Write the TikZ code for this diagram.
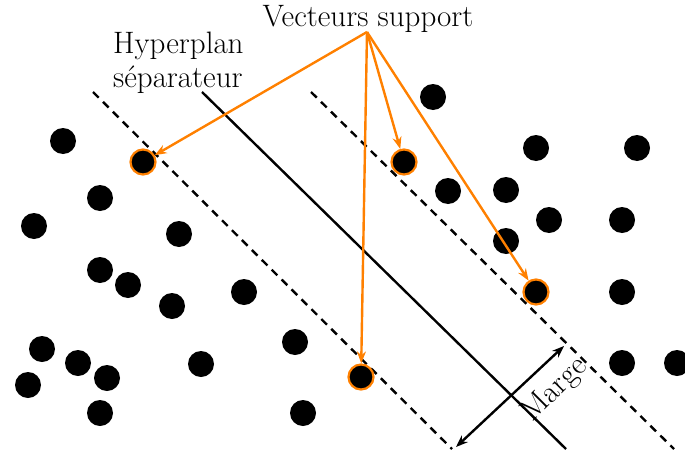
\documentclass[tikz,border=0pt]{standalone}
\usepackage{fontspec}
\setmainfont{Latin Modern Roman}
\usetikzlibrary{arrows.meta}
\definecolor{svmorange}{RGB}{255,128,0}
\begin{document}
\begin{tikzpicture}[x=1pt,y=-1pt,
  lbl/.style={font=\fontsize{31}{34}\selectfont, inner sep=0pt},
  pt/.style={circle, fill=black, minimum size=26pt, inner sep=0pt},
  sv/.style={circle, fill=black, draw=svmorange, line width=2.2pt, minimum size=25pt, inner sep=0pt},
  margin/.style={line width=2.4pt, dash pattern=on 8pt off 6pt},
  plane/.style={line width=2.4pt},
  svarrow/.style={svmorange, line width=2.4pt, -{Stealth[length=12pt,width=9pt]}},
  dimarrow/.style={line width=2.4pt, {Stealth[length=12pt,width=9pt]}-{Stealth[length=12pt,width=9pt]}}
]
\useasboundingbox (0,0) rectangle (685,455);

% margins and separating hyperplane
\coordinate (l1) at (93,92);  \coordinate (l2) at (452,449);
\coordinate (h1) at (202,92); \coordinate (h2) at (566,449);
\coordinate (r1) at (311,92); \coordinate (r2) at (674,449);
\draw[margin] (l1) -- (l2);
\draw[plane] (h1) -- (h2);
\draw[margin] (r1) -- (r2);

% class points
\foreach \x/\y [count=\i] in {63/141,100/198,34/226,179/234,100/270,128/285,172/306,244/292,
  42/349,78/363,107/378,28/385,201/364,295/342,100/413,303/413,
  433/97,448/191,536/148,637/148,506/190,549/220,622/220,506/241,622/292,622/363,677/363}
  \node[pt] (p\i) at (\x,\y) {};

% support vectors
\node[sv] (s1) at (143,162) {};
\node[sv] (s2) at (404,162) {};
\node[sv] (s3) at (361,377) {};
\node[sv] (s4) at (536,292) {};

% labels
\node[lbl, anchor=base] (vs) at (368,26) {Vecteurs support};
\coordinate (vsf) at (367,32);
\node[lbl, anchor=base west] (hp1) at (113,53) {Hyperplan};
\node[lbl, anchor=base west] (hp2) at (113,87) {séparateur};

\draw[svarrow] (vsf) -- (s1);
\draw[svarrow] (vsf) -- (s2);
\draw[svarrow] (vsf) -- (s3);
\draw[svarrow] (vsf) -- (s4);

% margin width
\coordinate (m1) at (456,447);
\coordinate (m2) at (564,346);
\draw[dimarrow] (m1) -- (m2);
\node[lbl, rotate=45] (mg) at (555,390) {Marge};
\end{tikzpicture}
\end{document}
